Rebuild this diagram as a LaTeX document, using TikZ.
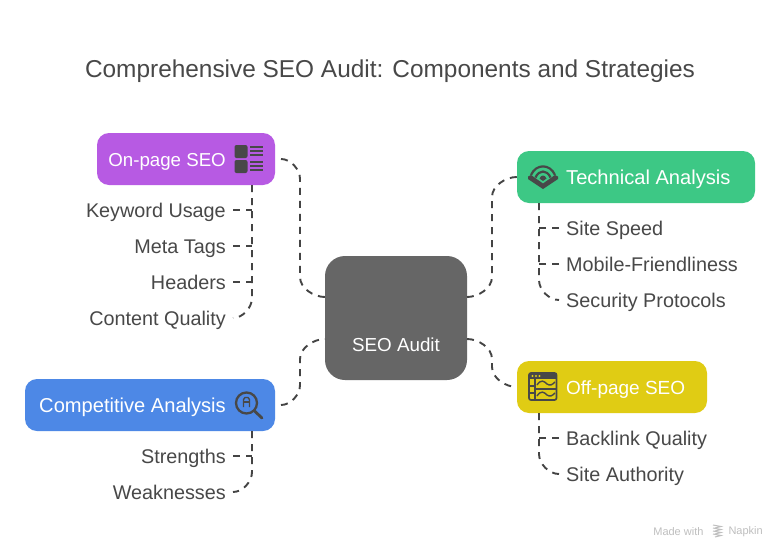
\documentclass[tikz,border=0pt]{standalone}
\usepackage{fontspec}
\setmainfont{Liberation Sans}
\usepackage{tikz}
\definecolor{inkdark}{HTML}{484848}
\definecolor{linkgray}{HTML}{444444}
\definecolor{auditgray}{HTML}{666666}
\definecolor{onpagepurple}{HTML}{B75AE3}
\definecolor{techgreen}{HTML}{3DC885}
\definecolor{offyellow}{HTML}{E0CC14}
\definecolor{compblue}{HTML}{4D88E6}
\tikzset{
  link/.style={draw=linkgray, line width=1.9pt, dash pattern=on 7pt off 6pt},
  mainlink/.style={link, looseness=0.9},
  sublink/.style={link, looseness=0.9},
  topicbox/.style={rounded corners=12pt, minimum height=52pt, inner sep=0pt, text=white, font=\fontsize{20.1}{24}\selectfont, text height=16pt, text depth=2pt},
  sublabel/.style={text=inkdark, inner sep=0pt, inner xsep=7pt, font=\fontsize{19.8}{23}\selectfont, text height=16pt, text depth=2pt},
  iconpen/.style={draw=inkdark, line width=1.7pt},
  iconfill/.style={fill=inkdark},
}
\begin{document}
\begin{tikzpicture}[x=1pt,y=-1pt]
    \useasboundingbox (0,0) rectangle (780,552);
    \fill[white] (0,0) rectangle (780,552);
    \node[text=inkdark, font=\fontsize{24.4}{28}\selectfont] (title) at (390,71.5) {Comprehensive SEO Audit: Components and Strategies};

    \node[fill=auditgray, rounded corners=20pt, minimum width=142pt, minimum height=124pt] (audit) at (396,318) {};
    \node[text=white, font=\fontsize{18.8}{22}\selectfont, text height=16pt, text depth=2pt] (auditlabel) at (396,344.5) {SEO Audit};
    \node[topicbox, fill=onpagepurple, minimum width=178pt] (onpage) at (186,159) {};
    \node[topicbox, fill=techgreen, minimum width=238pt] (technical) at (636,177) {};
    \node[topicbox, fill=offyellow, minimum width=190pt] (offpage) at (612,387) {};
    \node[topicbox, fill=compblue, minimum width=250pt] (competitive) at (150,405) {};
    \node[topicbox, anchor=east, font=\fontsize{18.7}{23}\selectfont] (onpagelabel) at (226,159) {On-page SEO};
    \node[topicbox, anchor=west] (technicallabel) at (566,177) {Technical Analysis};
    \node[topicbox, anchor=west, font=\fontsize{19}{23}\selectfont] (offpagelabel) at (566,387) {Off-page SEO};
    \node[topicbox, anchor=east] (competitivelabel) at (226,405) {Competitive Analysis};

    \foreach \name/\y/\txt in {keyword/210/Keyword Usage, metatags/246/Meta Tags, headers/282/Headers, quality/318/Content Quality, strengths/456/Strengths, weaknesses/492/Weaknesses}
    \node[sublabel, anchor=east] (\name) at (233,\y) {\txt};
    \foreach \name/\y/\txt in {speed/228/Site Speed, mobile/264/Mobile-Friendliness, security/300/Security Protocols, backlink/438/Backlink Quality, authority/474/Site Authority}
    \node[sublabel, anchor=west] (\name) at (559,\y) {\txt};

    \coordinate (auditnw) at (325,297);
    \coordinate (auditsw) at (325,339);
    \coordinate (auditne) at (467,297);
    \coordinate (auditse) at (467,339);
    \coordinate (onpagegap) at (281,159);
    \coordinate (competitivegap) at (281,405);
    \coordinate (onpagebus) at (252,185);
    \coordinate (competitivebus) at (252,431);
    \coordinate (technicalbus) at (539,203);
    \coordinate (offpagebus) at (539,413);
    \coordinate (onpagebend) at (300,179);
    \coordinate (nwbend) at (300,277);
    \coordinate (compbend) at (300,385);
    \coordinate (swbend) at (300,359);
    \coordinate (techbend) at (492,197);
    \coordinate (nebend) at (492,277);
    \coordinate (offbend) at (492,367);
    \coordinate (sebend) at (492,359);

    \draw[mainlink] (onpagegap) to[out=0,in=90] (onpagebend) -- (nwbend) to[out=-90,in=180] (auditnw);
    \draw[mainlink] (competitivegap) to[out=0,in=-90] (compbend) -- (swbend) to[out=90,in=180] (auditsw);
    \draw[mainlink] (technical.west) to[out=180,in=90] (techbend) -- (nebend) to[out=-90,in=0] (auditne);
    \draw[mainlink] (auditse) to[out=0,in=90] (sebend) -- (offbend) to[out=-90,in=180] (offpage.west);

    \draw[sublink] (onpagebus) -- (252,298) to[out=-90,in=0] (quality.east);
    \draw[sublink] (competitivebus) -- (252,472) to[out=-90,in=0] (weaknesses.east);
    \draw[sublink] (technicalbus) -- (539,280) to[out=-90,in=180] (security.west);
    \draw[sublink] (offpagebus) -- (539,454) to[out=-90,in=180] (authority.west);
    \foreach \lab in {keyword,metatags,headers}
    \draw[link] (\lab.east) -- (\lab.east -| onpagebus);
    \draw[link] (strengths.east) -- (strengths.east -| competitivebus);
    \foreach \lab in {speed,mobile}
    \draw[link] (\lab.west) -- (\lab.west -| technicalbus);
    \draw[link] (backlink.west) -- (backlink.west -| offpagebus);

    \foreach \y in {145,160} {
      \fill[iconfill, rounded corners=2pt] (234.5,\y) rectangle (247.5,\y+13);
      \foreach \d in {2,6,10}
      \draw[inkdark, line width=1.2pt] (250,\y+\d) -- (263,\y+\d);
    }

    \fill[iconfill] (528,176.5) -- (531,175) -- (543,183.5) -- (555,175) -- (558,176.5) -- (558,179) -- (543,189) -- (528,179) -- cycle;
    \draw[iconpen, line width=2.2pt] (531,175) .. controls (536,163.5) and (550,163.5) .. (555,175);
    \draw[iconpen, line width=2.2pt] (535.5,177.5) .. controls (539,169.5) and (547,169.5) .. (550.5,177.5);
    \fill[iconfill] (539.5,178.5) .. controls (541,174.5) and (545,174.5) .. (546.5,178.5) -- (543,181) -- cycle;

    \draw[iconpen, rounded corners=2pt] (529,373) rectangle (556.5,400);
    \fill[iconfill] (529,373) rectangle (556.5,379);
    \foreach \x in {532.5,536,539.5}
    \fill[offyellow] (\x,376) circle[radius=1.1pt];
    \draw[iconpen] (535,379) -- (535,400);
    \draw[iconpen] (529,386) -- (535,386);
    \draw[iconpen] (529,393) -- (535,393);
    \draw[iconpen] (535,389) -- (556.5,389);
    \draw[iconpen, line width=1.4pt] (537,385) .. controls (541,379) and (544,381) .. (547,384) .. controls (550,386) and (552,385) .. (555,382);
    \draw[iconpen, line width=1.4pt] (537,396) .. controls (541,390) and (544,392) .. (547,395) .. controls (550,397) and (552,396) .. (555,393);

    \draw[iconpen, line width=2.3pt] (246.5,403) circle[radius=10.5pt];
    \draw[iconpen, line width=2.8pt, line cap=round] (254.5,411) -- (262,418);
    \draw[iconpen, line width=1.4pt] (243.5,407) -- (243.5,399.5) -- (245,397.5) -- (248,397.5) -- (249.5,399.5) -- (249.5,407);
    \draw[iconpen, line width=1.4pt] (243.5,402) -- (249.5,402);

    \node[text=black!25, anchor=east, font=\fontsize{11}{13}\selectfont] (madewith) at (707,532) {Made with};
    \node[text=black!25, anchor=west, font=\fontsize{11}{13}\selectfont] (napkin) at (725,532) {Napkin};
    \foreach \y in {526,529,532,535}
    \draw[black!25, line width=1pt] (713,\y-1) -- (721,\y+0.5) -- (715,\y+2);
\end{tikzpicture}
\end{document}
